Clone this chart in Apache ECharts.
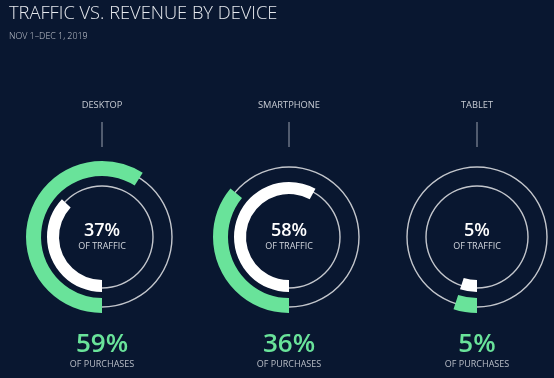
<!DOCTYPE html>
<html>
<head>
<meta charset="utf-8">
<script src="https://cdn.jsdelivr.net/npm/echarts@6/dist/echarts.min.js"></script>
<style>
html,body{margin:0;padding:0;background:#091730;}
#c{width:554px;height:378px;}
</style>
</head>
<body>
<div id="c"></div>
<script>
const titleText = 'TRAFFIC VS. REVENUE BY DEVICE';
const subtitleText = 'NOV 1\u2013DEC 1, 2019';
const devices = ['DESKTOP', 'SMARTPHONE', 'TABLET'];
const trafficPct = [37, 58, 5];
const purchasePct = [59, 36, 5];

const BG = '#091730';
const GREEN = '#69e39a';
const RING = '#c3c6cc';
const FONT = '"Open Sans", "Segoe UI", sans-serif';
const centersX = [102, 289, 477];
const CY = 237;

const chart = echarts.init(document.getElementById('c'), null, {renderer: 'canvas'});

const series = [];
const graphics = [];

graphics.push({type: 'text', x: 9, y: 14, style: {text: titleText, fill: '#e6e9ee', font: '300 18.3px ' + FONT, textAlign: 'left', align: 'left', textVerticalAlign: 'middle', verticalAlign: 'middle'}});
graphics.push({type: 'text', x: 9, y: 36, style: {text: subtitleText, fill: '#c7cbd3', font: '300 8.9px ' + FONT, textAlign: 'left', align: 'left', textVerticalAlign: 'middle', verticalAlign: 'middle'}});

devices.forEach(function (d, i) {
  const cx = centersX[i];
  const center = [cx, CY];
  const base = {type: 'pie', center: center, silent: true, startAngle: -90, clockwise: true,
    label: {show: false}, labelLine: {show: false}, emphasis: {disabled: true}, animation: false};
  // thin outer ring
  series.push(Object.assign({}, base, {radius: [69.3, 70.7], data: [{value: 100, itemStyle: {color: RING}}]}));
  // thin inner ring
  series.push(Object.assign({}, base, {radius: [50.3, 51.7], data: [{value: 100, itemStyle: {color: RING}}]}));
  // purchases arc (green)
  series.push(Object.assign({}, base, {radius: [61, 76], data: [
    {value: purchasePct[i], itemStyle: {color: GREEN}},
    {value: 100 - purchasePct[i], itemStyle: {color: 'rgba(0,0,0,0)'}}
  ]}));
  // traffic arc (white)
  series.push(Object.assign({}, base, {radius: [43, 55], data: [
    {value: trafficPct[i], itemStyle: {color: '#ffffff'},
     label: {show: true, position: 'center', formatter: '{a|' + trafficPct[i] + '%}\n{b|OF TRAFFIC}',
       rich: {a: {color: '#ffffff', fontFamily: FONT, fontWeight: 600, fontSize: 18, lineHeight: 19},
              b: {color: '#d2d6dd', fontFamily: FONT, fontWeight: 400, fontSize: 9, lineHeight: 12}}}},
    {value: 100 - trafficPct[i], itemStyle: {color: 'rgba(0,0,0,0)'}}
  ]}));

  graphics.push({type: 'text', x: cx, y: 105, style: {text: d, fill: '#c7cbd3', font: '400 9.3px ' + FONT, textAlign: 'center', align: 'center', textVerticalAlign: 'middle', verticalAlign: 'middle'}});
  graphics.push({type: 'line', shape: {x1: cx, y1: 122, x2: cx, y2: 147}, style: {stroke: '#9aa1ad', lineWidth: 1}});
  graphics.push({type: 'text', x: cx, y: 345, style: {text: purchasePct[i] + '%', fill: GREEN, font: '600 26px ' + FONT, textAlign: 'center', align: 'center', textVerticalAlign: 'middle', verticalAlign: 'middle'}});
  graphics.push({type: 'text', x: cx, y: 364, style: {text: 'OF PURCHASES', fill: '#b9bec7', font: '400 9px ' + FONT, textAlign: 'center', align: 'center', textVerticalAlign: 'middle', verticalAlign: 'middle'}});
});

chart.setOption({
  backgroundColor: BG,
  animation: false,
  series: series,
  graphic: graphics
});
</script>
</body>
</html>
